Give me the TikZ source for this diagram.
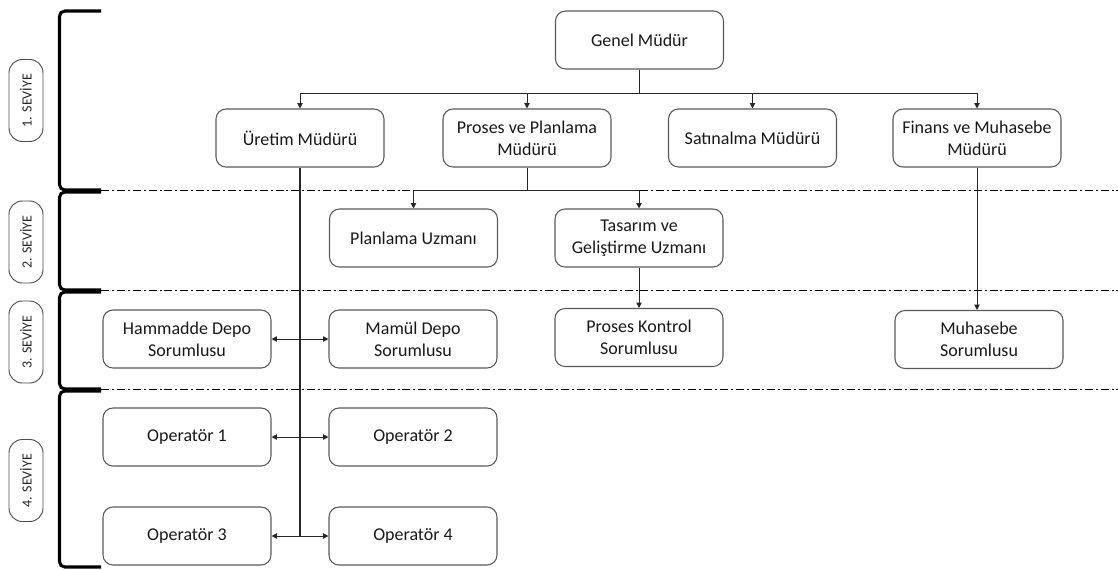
\documentclass[tikz,border=0pt]{standalone}
\usepackage{fontspec}
\setmainfont{Carlito}
\usetikzlibrary{arrows.meta}

\begin{document}
\begin{tikzpicture}[x=0.75pt,y=-0.75pt,
  box/.style={draw=black!65, line width=0.8pt, rounded corners=7.5pt,
    minimum width=126pt, minimum height=43.5pt, inner sep=0pt, align=center,
    font=\fontsize{13.5}{16.5}\selectfont, text=black!90},
  lvl/.style={draw=black!70, line width=0.7pt, rounded corners=10pt, rotate=90,
    minimum width=61.5pt, minimum height=25.5pt, inner sep=0pt,
    font=\fontsize{10.5}{12}\selectfont, text=black!85},
  conn/.style={draw=black!85, line width=0.75pt},
  arr/.style={conn, -{Triangle[length=4pt,width=4pt]}},
  darr/.style={conn, {Triangle[length=4pt,width=4pt]}-{Triangle[length=4pt,width=4pt]}},
  sep/.style={draw=black, line width=1.4pt, dash pattern=on 6pt off 2.2pt on 1.5pt off 2.2pt},
  brk/.style={draw=black, line width=2.3pt, rounded corners=4pt}]

\useasboundingbox (0,0) rectangle (1118,569);

% level brackets
\draw[brk] (101,11) -- (59.5,11) -- (59.5,190) -- (101,190);
\draw[brk] (101,192) -- (59.5,192) -- (59.5,290) -- (101,290);
\draw[brk] (101,292) -- (59.5,292) -- (59.5,389) -- (101,389);
\draw[brk] (101,391) -- (59.5,391) -- (59.5,567) -- (101,567);

% level separators
\draw[sep] (101,190.5) -- (1118,190.5);
\draw[sep] (101,290.5) -- (1118,290.5);
\draw[sep] (101,389.5) -- (1118,389.5);

% level labels
\node[lvl] (l1) at (26,100.5) {1. SEVİYE};
\node[lvl] (l2) at (26,242) {2. SEVİYE};
\node[lvl] (l3) at (26,342) {3. SEVİYE};
\node[lvl] (l4) at (26,480.5) {4. SEVİYE};

% positions
\node[box] (gm) at (639.5,40) {Genel Müdür};
\node[box] (ur) at (300,138) {Üretim Müdürü};
\node[box] (pp) at (527,138) {Proses ve Planlama\\Müdürü};
\node[box] (sa) at (752.5,138) {Satınalma Müdürü};
\node[box] (fm) at (977,138) {Finans ve Muhasebe\\Müdürü};
\node[box] (pu) at (413.5,238) {Planlama Uzmanı};
\node[box] (tg) at (639,238) {Tasarım ve\\Geliştirme Uzmanı};
\node[box] (hd) at (187,339) {Hammadde Depo\\Sorumlusu};
\node[box] (md) at (413,339) {Mamül Depo\\Sorumlusu};
\node[box] (pk) at (639,337.5) {Proses Kontrol\\Sorumlusu};
\node[box] (ms) at (979,339.5) {Muhasebe\\Sorumlusu};
\node[box] (o1) at (187,437) {Operatör 1};
\node[box] (o2) at (413,437) {Operatör 2};
\node[box] (o3) at (187,536) {Operatör 3};
\node[box] (o4) at (413,536) {Operatör 4};

% top level reporting lines
\coordinate (bus) at (639.5,93);
\draw[conn] (gm.south) -- (bus);
\draw[arr] (bus) -| (ur.north);
\draw[arr] (bus) -| (pp.north);
\draw[arr] (bus) -| (sa.north);
\draw[arr] (bus) -| (fm.north);

% process and planning branch
\coordinate (pbus) at (527,190.5);
\draw[conn] (pp.south) -- (pbus);
\draw[arr] (pbus) -| (pu.north);
\draw[arr] (pbus) -| (tg.north);
\draw[arr] (tg.south) -- (pk.north);

% finance branch
\draw[arr] (fm.south) -- (fm.south |- ms.north);

% production branch
\coordinate (uend) at (300,536);
\draw[conn, line width=1pt] (ur.south) -- (uend);
\draw[darr] (hd.east) -- (md.west);
\draw[darr] (o1.east) -- (o2.west);
\draw[darr] (o3.east) -- (o4.west);

\end{tikzpicture}
\end{document}
